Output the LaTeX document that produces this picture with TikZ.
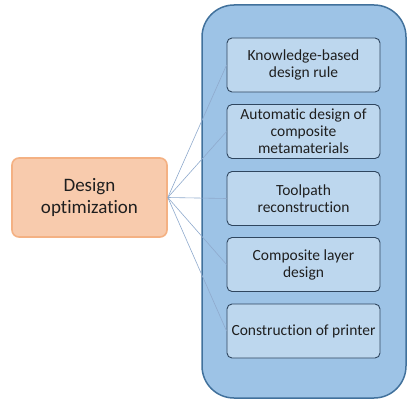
\documentclass[tikz,border=0pt]{standalone}
\usepackage{fontspec}
\setmainfont{Carlito}[Ligatures=NoCommon]
\definecolor{outerfill}{RGB}{157,195,230}
\definecolor{outerdraw}{RGB}{65,113,156}
\definecolor{itemfill}{RGB}{189,215,238}
\definecolor{itemdraw}{RGB}{47,70,95}
\definecolor{mainfill}{RGB}{248,203,173}
\definecolor{maindraw}{RGB}{244,177,131}
\definecolor{linkline}{RGB}{143,170,205}
\begin{document}
\begin{tikzpicture}[x=1pt,y=-1pt,
  item/.style={draw=itemdraw,fill=itemfill,line width=0.9pt,rounded corners=5pt,
    minimum width=153pt,minimum height=54pt,align=center,inner sep=1pt,
    font=\fontsize{15.5}{17}\selectfont,text=black!88},
  mainbox/.style={draw=maindraw,fill=mainfill,line width=1.6pt,rounded corners=7pt,
    minimum width=155pt,minimum height=79pt,align=center,
    font=\fontsize{19}{22}\selectfont,text=black!88},
  link/.style={draw=linkline,line width=0.6pt}]
\useasboundingbox (0,0) rectangle (419,404);
\draw [outerdraw, fill=outerfill, line width=1.5pt, rounded corners=32pt] (202,5) rectangle (406,398);

\node [mainbox] (design) at (89.5,197.5) {Design\\optimization};

\node [item] (kbrule) at (303.5,65) {Knowledge-based\\design rule};
\node [item] (autodesign) at (303.5,131.5) {Automatic design of\\composite\\metamaterials};
\node [item] (toolpath) at (303.5,198.5) {Toolpath\\reconstruction};
\node [item] (layer) at (303.5,264.5) {Composite layer\\design};
\node [item] (printer) at (303.5,331) {Construction of printer};

\foreach \n in {kbrule,autodesign,toolpath,layer,printer}
  \draw [link] (design.east) -- (\n.west);
\end{tikzpicture}
\end{document}
